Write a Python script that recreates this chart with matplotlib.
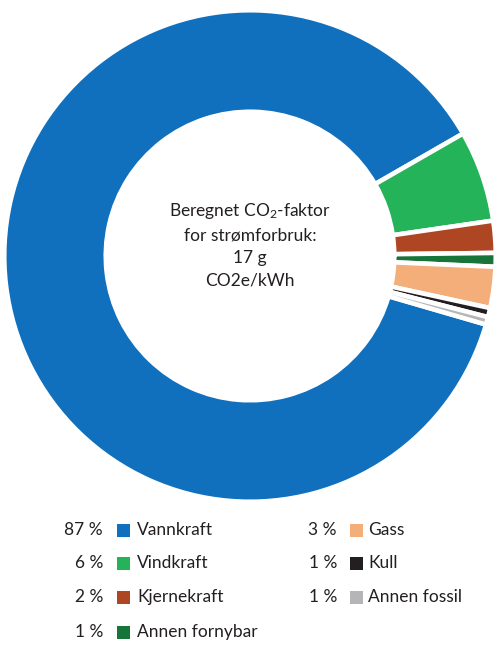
import numpy as np
import matplotlib.pyplot as plt
from matplotlib.patches import Rectangle

plt.rcParams['font.family'] = ['Lato', 'DejaVu Sans']
plt.rcParams['mathtext.default'] = 'regular'

# shares of the electricity mix (underlying values, legend shows rounded)
sources = ['Vannkraft', 'Vindkraft', 'Kjernekraft', 'Annen fornybar',
           'Gass', 'Kull', 'Annen fossil']
shares = [87.2, 6.0, 2.1, 0.9, 2.7, 0.6, 0.5]
pct_labels = ['87 %', '6 %', '2 %', '1 %', '3 %', '1 %', '1 %']
colors = ['#1070be', '#25b35a', '#af4623', '#17753a',
          '#f4ae7a', '#231f20', '#b5b5b8']

W, H = 500, 649
fig = plt.figure(figsize=(W / 100, H / 100), dpi=100)

# square axes of 500x500 px centred at (250, 256) from the top
cy = 256
ax = fig.add_axes([0, (H - cy - 250) / H, 1, 500 / H])
gap = 3.3  # white separators, points
ax.pie(shares, colors=colors, startangle=-16.2, counterclock=False,
       radius=0.983,
       wedgeprops=dict(width=0.406, edgecolor='white', linewidth=gap))
ax.set_xlim(-1, 1)
ax.set_ylim(-1, 1)
ax.axis('off')

ax.text(0, 0.045, 'Beregnet CO$_2$-faktor\nfor strømforbruk:\n17 g\nCO2e/kWh',
        ha='center', va='center', fontsize=12.5, linespacing=1.48,
        color='#231f20')

# legend: two columns, percentage - square - label
rows_y = [530, 563, 597, 632]
cols = [(103, 117, 137), (337, 350, 368)]
sq = 13
for i, (name, pct, col) in enumerate(zip(sources, pct_labels, colors)):
    c = 0 if i < 4 else 1
    r = i if i < 4 else i - 4
    xp, xs, xl = cols[c]
    y = rows_y[r]
    fig.text(xp / W, 1 - y / H, pct, ha='right', va='center',
             fontsize=12.5, color='#231f20')
    fig.patches.append(Rectangle((xs / W, 1 - (y + sq / 2) / H), sq / W, sq / H,
                                 transform=fig.transFigure, facecolor=col,
                                 edgecolor='none'))
    fig.text(xl / W, 1 - y / H, name, ha='left', va='center',
             fontsize=12.5, color='#231f20')

fig.savefig('out.png', dpi=100)
